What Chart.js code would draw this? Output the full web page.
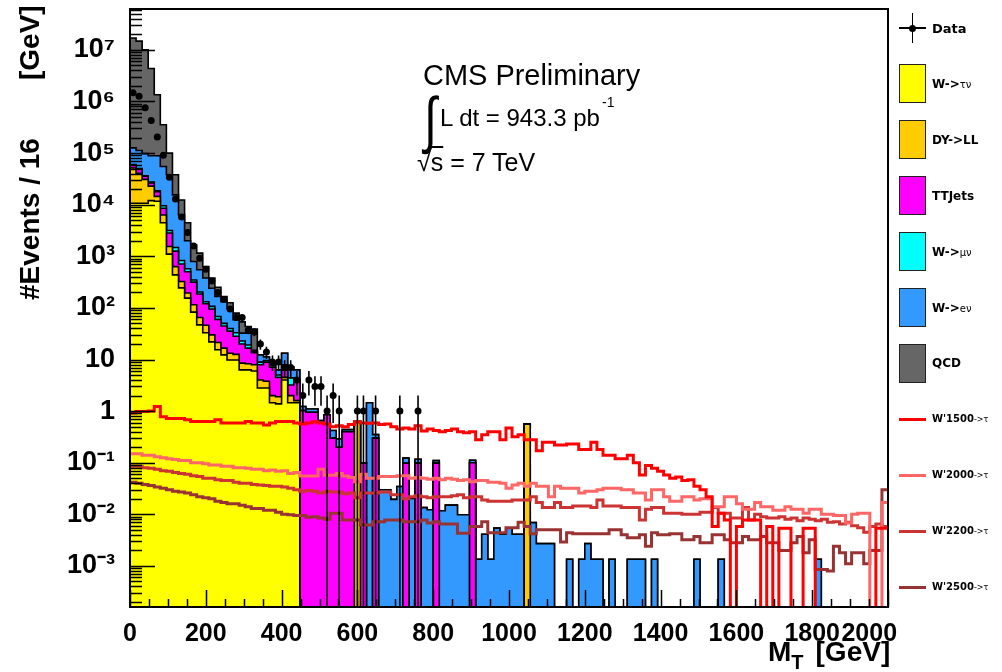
<!DOCTYPE html>
<html>
<head>
<meta charset="utf-8">
<script src="https://cdn.jsdelivr.net/npm/chart.js@4.4.0/dist/chart.umd.min.js"></script>
<style>
body { margin: 0; background: #fff; }
#wrap { position: relative; width: 1002px; height: 672px; overflow: hidden; font-family: "Liberation Sans", Arial, sans-serif; }
#myChart { position: absolute; left: 0; top: 0; }
.txt { position: absolute; white-space: nowrap; line-height: 1; color: #000; }
.ytitle { font-weight: bold; font-size: 28px; transform: rotate(-90deg); transform-origin: 0 0; }
.leg { position: absolute; }
.legtxt { position: absolute; left: 932px; font-family: "DejaVu Sans", sans-serif; font-weight: bold; font-size: 12px; white-space: nowrap; transform: translateY(-50%); line-height: 1; }
.legtxt small { font-weight: normal; font-size: 10px; }
</style>
</head>
<body>
<div id="wrap">
  <canvas id="myChart" width="1002" height="672"></canvas>

  <div class="txt ytitle" style="left:16px; top:300px;">#Events / 16</div>
  <div class="txt ytitle" style="left:16px; top:80px;">[GeV]</div>

  <div class="txt" style="left:768px; top:638px; font-size:28px; font-weight:bold;">M<span style="font-size:20px; position:relative; top:8px;">T</span><span style="margin-left:12px;">[GeV]</span></div>

  <div class="txt" style="left:423px; top:60px; font-size:30px; transform: scaleX(0.965); transform-origin: 0 0;">CMS Preliminary</div>
  <div class="txt" style="left:424px; top:88px; font-size:46px; transform: scaleY(1.35); transform-origin: 0 0;">&#8747;</div>
  <div class="txt" style="left:440px; top:106px; font-size:24px;">L dt = 943.3 pb</div>
  <div class="txt" style="left:602px; top:95px; font-size:14px;">-1</div>
  <div class="txt" style="left:417px; top:150px; font-size:25px;">&#8730;<span style="text-decoration: overline;">s</span> = 7 TeV</div>

  <div id="legend"></div>
</div>

<script>
// 125 bins of 16 GeV, 0 - 2000 GeV
var binWidth = 16;
var nBins = 125;
var binEdges = Array.from({length: nBins + 1}, function (_, i) { return i * binWidth; });

var xTickValues = [0, 200, 400, 600, 800, 1000, 1200, 1400, 1600, 1800, 2000];
var xTickLabels = ['0', '200', '400', '600', '800', '1000', '1200', '1400', '1600', '1800', '2000'];
var yTickValues = [1e-3, 1e-2, 1e-1, 1, 10, 1e2, 1e3, 1e4, 1e5, 1e6, 1e7];
var yTickLabels = ['10⁻³', '10⁻²', '10⁻¹', '1', '10', '10²', '10³', '10⁴', '10⁵', '10⁶', '10⁷'];
var yMin = 1.6e-4;
var yMax = 6.2e7;
// empty bins are drawn at this level (below the axis) so outlines drop to the frame
var yFloor = 1e-6;

// stacked backgrounds, per bin
var wTauNu = [
    10700, 10700, 10700, 12000, 11700, 4470, 1100, 437, 245, 155,
    83, 47, 33, 22, 15.5, 12.3, 9.8, 9.8, 6.3, 6.3,
    6.0, 2.8, 2.8, 1.45, 1.38, 4.0, 1.45, 1.45, 0, 0,
    0, 0, 0, 0, 0, 0, 0, 0, 0, 0,
    0, 0, 0, 0, 0, 0, 0, 0, 0, 0,
    0, 0, 0, 0, 0, 0, 0, 0, 0, 0,
    0, 0, 0, 0, 0, 0, 0, 0, 0, 0,
    0, 0, 0, 0, 0, 0, 0, 0, 0, 0,
    0, 0, 0, 0, 0, 0, 0, 0, 0, 0,
    0, 0, 0, 0, 0, 0, 0, 0, 0, 0,
    0, 0, 0, 0, 0, 0, 0, 0, 0, 0,
    0, 0, 0, 0, 0, 0, 0, 0, 0, 0,
    0, 0, 0, 0, 0
];
var dyLL = [
    40600, 30000, 20200, 10900, 2800, 1840, 450, 194, 79, 40,
    32, 18, 13, 8, 5.9, 4.3, 3.4, 2.8, 2.2, 2.0,
    1.9, 1.2, 1.0, 0.55, 0.52, 0.5, 0.55, 0.15, 0, 0,
    0, 0, 0, 0, 0, 0, 0, 0.6, 0, 0,
    0, 0, 0, 0, 0, 0, 0, 0, 0, 0,
    0, 0, 0, 0, 0, 0, 0, 0, 0, 0,
    0, 0, 0, 0, 0, 0.56, 0, 0, 0, 0,
    0, 0, 0, 0, 0, 0, 0, 0, 0, 0,
    0, 0, 0, 0, 0, 0, 0, 0, 0, 0,
    0, 0, 0, 0, 0, 0, 0, 0, 0, 0,
    0, 0, 0, 0, 0, 0, 0, 0, 0, 0,
    0, 0, 0, 0, 0, 0, 0, 0, 0, 0,
    0, 0, 0, 0, 0
];
var ttJets = [
    7600, 8300, 4600, 3400, 3300, 2200, 1270, 630, 384, 306,
    201, 121, 74, 65, 38.6, 28.1, 22.3, 15.6, 11.5, 8.3,
    5.6, 3.9, 5.1, 5.1, 2.6, 1.8, 1.2, 2.4, 1.02, 0.95,
    0.95, 0.60, 0.85, 0.30, 0.20, 0.40, 0.40, 0.03, 0.098, 0,
    0.30, 0, 0, 0, 0, 0.098, 0, 0.098, 0, 0,
    0.098, 0, 0, 0, 0, 0, 0.10, 0, 0, 0,
    0, 0, 0, 0, 0, 0, 0, 0, 0, 0,
    0, 0, 0, 0, 0, 0, 0, 0, 0, 0,
    0, 0, 0, 0, 0, 0, 0, 0, 0, 0,
    0, 0, 0, 0, 0, 0, 0, 0, 0, 0,
    0, 0, 0, 0, 0, 0, 0, 0, 0, 0,
    0, 0, 0, 0, 0, 0, 0, 0, 0, 0,
    0, 0, 0, 0, 0
];
var wMuNu = [
    1400, 1100, 800, 1200, 800, 1040, 340, 220, 124, 74,
    31, 18, 12, 12, 8, 5.4, 4.3, 4.9, 2.9, 2.5,
    1.0, 1.0, 0.6, 0.5, 0.5, 1.6, 1.2, 0.2, 0, 0,
    0, 0, 0, 0, 0, 0, 0, 0, 0, 0,
    0, 0, 0, 0, 0, 0, 0, 0, 0, 0,
    0, 0, 0, 0, 0, 0, 0, 0, 0, 0,
    0, 0, 0, 0, 0, 0, 0, 0, 0, 0,
    0, 0, 0, 0, 0, 0, 0, 0, 0, 0,
    0, 0, 0, 0, 0, 0, 0, 0, 0, 0,
    0, 0, 0, 0, 0, 0, 0, 0, 0, 0,
    0, 0, 0, 0, 0, 0, 0, 0, 0, 0,
    0, 0, 0, 0, 0, 0, 0, 0, 0, 0,
    0, 0, 0, 0, 0
];
var wENu = [
    65700, 61900, 61400, 61600, 70500, 45500, 34800, 14000, 5480, 1425,
    447, 346, 248, 133, 98, 82, 57.9, 25.8, 9.5, 13.3,
    0.6, 3.4, 1.7, 1.5, 1.3, 5.3, 2.8, 2.1, 0.21, 0.15,
    0.15, 0.06, 0, 0.12, 0.09, 0.04, 0.04, 0, 0, 1.45,
    0.05, 0.030, 0.030, 0.0195, 0.0347, 0.025, 0.0204, 0.019, 0.0135, 0.0123,
    0.012, 0.0117, 0.0151, 0.0151, 0.0098, 0.0098, 0.012, 0.00135, 0.0041, 0.00135,
    0.0054, 0.0041, 0.0054, 0.0041, 0.0041, 0, 0.0069, 0.0027, 0.0027, 0.0027,
    0, 0, 0.00135, 0, 0.00135, 0.0027, 0.00135, 0.00135, 0, 0.00135,
    0, 0, 0.00135, 0.00135, 0.00135, 0, 0.00135, 0, 0, 0,
    0, 0, 0, 0.00135, 0, 0, 0, 0.00135, 0, 0,
    0, 0, 0, 0, 0, 0, 0, 0, 0, 0,
    0, 0, 0, 0.00135, 0, 0, 0, 0, 0, 0,
    0, 0, 0, 0, 0
];
var qcd = [
    1.69e7, 1.47e7, 9.9e6, 4.28e6, 1.26e6, 300000, 62000, 22500, 5990, 2470,
    866, 600, 251, 140, 85, 34, 28, 20.5, 21.3, 11.3,
    23.8, 0, 0, 0, 0, 0, 0, 0, 0, 0,
    0, 0, 0, 0, 0, 0, 0, 0, 0, 0,
    0, 0, 0, 0, 0, 0, 0, 0, 0, 0,
    0, 0, 0, 0, 0, 0, 0, 0, 0, 0,
    0, 0, 0, 0, 0, 0, 0, 0, 0, 0,
    0, 0, 0, 0, 0, 0, 0, 0, 0, 0,
    0, 0, 0, 0, 0, 0, 0, 0, 0, 0,
    0, 0, 0, 0, 0, 0, 0, 0, 0, 0,
    0, 0, 0, 0, 0, 0, 0, 0, 0, 0,
    0, 0, 0, 0, 0, 0, 0, 0, 0, 0,
    0, 0, 0, 0, 0
];

// W' signal samples
var wp1500 = [
    0.92, 0.98, 0.98, 1.0, 1.23, 0.78, 0.72, 0.72, 0.72, 0.68,
    0.63, 0.63, 0.63, 0.63, 0.68, 0.59, 0.59, 0.59, 0.59, 0.63,
    0.59, 0.59, 0.54, 0.59, 0.63, 0.63, 0.63, 0.59, 0.56, 0.59,
    0.62, 0.59, 0.56, 0.50, 0.52, 0.50, 0.55, 0.62, 0.59, 0.58,
    0.59, 0.55, 0.56, 0.50, 0.45, 0.47, 0.45, 0.52, 0.41, 0.45,
    0.42, 0.40, 0.42, 0.45, 0.40, 0.38, 0.40, 0.28, 0.35, 0.40,
    0.40, 0.28, 0.47, 0.32, 0.35, 0.28, 0.28, 0.17, 0.25, 0.25,
    0.22, 0.22, 0.23, 0.23, 0.18, 0.18, 0.25, 0.18, 0.14, 0.14,
    0.12, 0.12, 0.14, 0.10, 0.058, 0.088, 0.078, 0.068, 0.058, 0.050,
    0.053, 0.045, 0.047, 0.035, 0.030, 0.022, 0.0058, 0.0105, 0.0078, 0,
    0.0058, 0.0078, 0.0078, 0.0078, 0, 0.0058, 0, 0.0054, 0.0054, 0,
    0, 0.0054, 0.0054, 0, 0, 0, 0, 0, 0, 0,
    0, 0, 0, 0.0054, 0.0054
];
var wp2000 = [
    0.15, 0.15, 0.14, 0.14, 0.13, 0.125, 0.12, 0.115, 0.11, 0.11,
    0.10, 0.10, 0.095, 0.09, 0.09, 0.085, 0.085, 0.08, 0.08, 0.078,
    0.075, 0.075, 0.07, 0.072, 0.068, 0.07, 0.062, 0.065, 0.055, 0.055,
    0.055, 0.075, 0.057, 0.057, 0.062, 0.055, 0.052, 0.043, 0.06, 0.05,
    0.05, 0.054, 0.054, 0.054, 0.056, 0.056, 0.05, 0.052, 0.05, 0.048,
    0.05, 0.047, 0.05, 0.048, 0.045, 0.047, 0.043, 0.045, 0.045, 0.042,
    0.042, 0.04, 0.032, 0.037, 0.04, 0.035, 0.04, 0.035, 0.035, 0.022,
    0.035, 0.032, 0.032, 0.032, 0.026, 0.028, 0.028, 0.03, 0.032, 0.032,
    0.032, 0.03, 0.03, 0.026, 0.026, 0.019, 0.03, 0.03, 0.022, 0.018,
    0.018, 0.022, 0.022, 0.019, 0.02, 0.02, 0.014, 0.014, 0.022, 0.022,
    0.016, 0.0125, 0.0125, 0.017, 0.014, 0.014, 0.012, 0.012, 0.014, 0.0125,
    0.0125, 0.0105, 0.0125, 0.0125, 0.01, 0.01, 0.0095, 0.0095, 0.0068, 0.01,
    0.0105, 0.0105, 0, 0, 0.017
];
var wp2200 = [
    0.085, 0.085, 0.08, 0.078, 0.075, 0.07, 0.068, 0.065, 0.062, 0.06,
    0.056, 0.054, 0.05, 0.05, 0.047, 0.045, 0.045, 0.042, 0.04, 0.04,
    0.038, 0.037, 0.036, 0.035, 0.035, 0.034, 0.032, 0.03, 0.028, 0.029,
    0.028, 0.026, 0.028, 0.027, 0.027, 0.025, 0.026, 0.021, 0.026, 0.026,
    0.026, 0.027, 0.027, 0.024, 0.024, 0.02, 0.022, 0.023, 0.022, 0.021,
    0.022, 0.022, 0.022, 0.023, 0.024, 0.021, 0.022, 0.022, 0.019, 0.018,
    0.018, 0.018, 0.018, 0.019, 0.019, 0.019, 0.022, 0.017, 0.0135, 0.0135,
    0.017, 0.0135, 0.0135, 0.0145, 0.0145, 0.0145, 0.0135, 0.019, 0.0145, 0.0145,
    0.0145, 0.0135, 0.0135, 0.0135, 0.0078, 0.0125, 0.0135, 0.0135, 0.0105, 0.0105,
    0.0105, 0.01, 0.01, 0.01, 0.011, 0.011, 0.0135, 0.0105, 0.0105, 0.0085,
    0.0085, 0.0135, 0.0078, 0.01, 0.009, 0.0085, 0.0085, 0.009, 0.008, 0.0085,
    0.0075, 0.0085, 0.008, 0.0075, 0.008, 0.007, 0.0072, 0.0065, 0.007, 0.006,
    0.0055, 0.0045, 0.0058, 0.0065, 0.0058
];
var wp2500 = [
    0.042, 0.04, 0.038, 0.036, 0.034, 0.032, 0.03, 0.028, 0.027, 0.026,
    0.024, 0.022, 0.021, 0.02, 0.018, 0.017, 0.016, 0.016, 0.015, 0.014,
    0.013, 0.013, 0.012, 0.012, 0.011, 0.010, 0.0098, 0.0095, 0.0095, 0.0088,
    0.009, 0.0085, 0.008, 0.0105, 0.0105, 0.0078, 0.0078, 0.0078, 0.0062, 0.0062,
    0.0072, 0.0072, 0.0078, 0.0078, 0.0078, 0.0072, 0.0072, 0.0072, 0.0078, 0.0068,
    0.0072, 0.0065, 0.0065, 0.0065, 0.0043, 0.0043, 0.0058, 0.0058, 0.0072, 0.0044,
    0.0044, 0.0044, 0.0055, 0.0055, 0.007, 0.0058, 0.0042, 0.005, 0.005, 0.005,
    0.005, 0.0029, 0.0044, 0.0042, 0.0042, 0.0042, 0.0042, 0.0042, 0.0042, 0.005,
    0.005, 0.004, 0.0035, 0.0035, 0.004, 0.0024, 0.0044, 0.004, 0.004, 0.0042,
    0.0042, 0.0032, 0.0032, 0.0037, 0.0028, 0.0028, 0.004, 0.004, 0.0032, 0.0028,
    0.0028, 0.0037, 0.0032, 0.0032, 0.0037, 0.0028, 0.0028, 0.002, 0.002, 0.0028,
    0.0037, 0.0018, 0.0032, 0.00085, 0.00085, 0.0008, 0.0024, 0.0018, 0.0011, 0.0018,
    0.0018, 0.0011, 0.002, 0.002, 0.03
];

// observed events per bin
var dataCounts = [
    1480000, 1260000, 760000, 427000, 204000, 91000, 34000, 12900, 5750, 2880,
    1585, 912, 562, 331, 200, 145, 95, 65, 65, 37,
    34, 20, 14, 9, 9, 7, 7, 4, 2, 4,
    3, 3, 1, 2, 1, 0, 0, 1, 1, 0,
    1, 0, 0, 0, 1, 0, 0, 1, 0, 0,
    0, 0, 0, 0, 0, 0, 0, 0, 0, 0,
    0, 0, 0, 0, 0, 0, 0, 0, 0, 0,
    0, 0, 0, 0, 0, 0, 0, 0, 0, 0,
    0, 0, 0, 0, 0, 0, 0, 0, 0, 0,
    0, 0, 0, 0, 0, 0, 0, 0, 0, 0,
    0, 0, 0, 0, 0, 0, 0, 0, 0, 0,
    0, 0, 0, 0, 0, 0, 0, 0, 0, 0,
    0, 0, 0, 0, 0
];

var procSeries = [wTauNu, dyLL, ttJets, wMuNu, wENu, qcd];
var procMain = ['W->', 'DY->LL', 'TTJets', 'W->', 'W->', 'QCD'];
var procSub = ['τν', '', '', 'μν', 'eν', ''];
var procColors = ['#ffff00', '#ffcc00', '#ff00ff', '#00ffff', '#3399ff', '#666666'];

var sigSeries = [wp1500, wp2000, wp2200, wp2500];
var sigMain = ["W'1500", "W'2000", "W'2200", "W'2500"];
var sigColors = ['#ff0000', '#ff6666', '#cc3333', '#993333'];

// histogram outline: each bin contributes its low and high edge at the same height
function stepData(vals) {
    var pts = [];
    vals.forEach(function (v, i) {
        var y = v > 0 ? v : yFloor;
        pts.push({x: binEdges[i], y: y}, {x: binEdges[i + 1], y: y});
    });
    return pts;
}

// cumulative stack (bottom -> top)
var running = new Array(nBins).fill(0);
var cumLayers = procSeries.map(function (arr) {
    running = running.map(function (r, i) { return r + arr[i]; });
    return running.slice();
});

var dataPts = [];
var errPts = [];
dataCounts.forEach(function (n, i) {
    if (n <= 0) return;
    var c = binEdges[i] + binWidth / 2;
    var e = Math.sqrt(n);
    dataPts.push({x: c, y: n});
    errPts.push({x: c, y: Math.max(n - e, yFloor)}, {x: c, y: n + e}, {x: c, y: null});
});

var datasets = [];
datasets.push({
    label: 'Data', data: dataPts, showLine: false,
    pointRadius: 3.5, pointBackgroundColor: '#000', pointBorderColor: '#000', pointBorderWidth: 0
});
datasets.push({
    label: 'Data errors', data: errPts, borderColor: '#000', borderWidth: 1.6,
    pointRadius: 0, spanGaps: false, fill: false
});
sigSeries.forEach(function (s, k) {
    datasets.push({
        label: sigMain[k], data: stepData(s), fill: false,
        borderColor: sigColors[k], borderWidth: 3, pointRadius: 0
    });
});
// index order = drawn on top, so the bottom layer of the stack comes first
for (var k = 0; k < cumLayers.length; k++) {
    datasets.push({
        label: procMain[k] + procSub[k], data: stepData(cumLayers[k]), fill: 'start',
        backgroundColor: procColors[k], borderColor: '#000', borderWidth: 1.6, pointRadius: 0
    });
}

const frameTicks = {
    id: 'frameTicks',
    afterDatasetsDraw: function (chart) {
        var c = chart.ctx, a = chart.chartArea, xs = chart.scales.x, ys = chart.scales.y;
        c.save();
        c.strokeStyle = '#000';
        c.lineWidth = 1.5;
        c.beginPath();
        for (var d = -4; d <= 7; d++) {
            for (var m = 1; m <= 9; m++) {
                var v = m * Math.pow(10, d);
                if (v < yMin || v > yMax) continue;
                var py = Math.round(ys.getPixelForValue(v)) + 0.5;
                c.moveTo(a.left, py);
                c.lineTo(a.left + (m === 1 ? 25 : 12), py);
            }
        }
        for (var g = 0; g <= 2000; g += 50) {
            var px = Math.round(xs.getPixelForValue(g)) + 0.5;
            c.moveTo(px, a.bottom);
            c.lineTo(px, a.bottom - (g % 200 === 0 ? 17 : 8));
        }
        c.stroke();
        c.lineWidth = 2;
        c.strokeRect(a.left, a.top, a.right - a.left, a.bottom - a.top);
        c.restore();
    }
};

Chart.defaults.font.family = "'Liberation Sans', Arial, sans-serif";

const ctx = document.getElementById('myChart');
new Chart(ctx, {
    type: 'line',
    data: {datasets: datasets},
    options: {
        responsive: false,
        animation: false,
        devicePixelRatio: 1,
        layout: {padding: {top: 9, right: 114, left: 0, bottom: 0}},
        plugins: {legend: {display: false}, tooltip: {enabled: false}},
        elements: {line: {tension: 0}},
        scales: {
            x: {
                type: 'linear', min: 0, max: 2000,
                grid: {display: false}, border: {display: false},
                afterBuildTicks: function (s) { s.ticks = xTickValues.map(function (v) { return {value: v}; }); },
                afterFit: function (s) { s.height = 65; s.paddingLeft = 0; s.paddingRight = 0; },
                ticks: {
                    autoSkip: false, maxRotation: 0, padding: 4, color: '#000',
                    font: {size: 25, weight: 'bold'},
                    // last label sits a little left of its tick, as in the original
                    callback: function (v, i) {
                        return i === xTickLabels.length - 1 ? xTickLabels[i] + '\u2002\u2002\u2002' : xTickLabels[i];
                    }
                }
            },
            y: {
                type: 'logarithmic', min: yMin, max: yMax,
                grid: {display: false}, border: {display: false},
                afterBuildTicks: function (s) { s.ticks = yTickValues.map(function (v) { return {value: v}; }); },
                afterFit: function (s) { s.width = 130; s.paddingTop = 0; s.paddingBottom = 0; },
                ticks: {
                    autoSkip: false, padding: 7, color: '#000',
                    font: {size: 27, weight: 'bold'},
                    callback: function (v, i) { return yTickLabels[i]; }
                }
            }
        }
    },
    plugins: [frameTicks]
});

// legend column on the right
var legend = document.getElementById('legend');
var step = 55.9;
function addEl(css, html, cls) {
    var el = document.createElement('div');
    el.className = cls || 'leg';
    el.style.cssText = css;
    if (html) el.innerHTML = html;
    legend.appendChild(el);
}
addEl('left:899px; top:27px; width:27px; height:1.6px; background:#000;');
addEl('left:911.5px; top:13px; width:1.6px; height:30px; background:#000;');
addEl('left:908.5px; top:24.5px; width:7px; height:7px; border-radius:50%; background:#000;');
addEl('top:28px; font-size:13px;', 'Data', 'legtxt');
procMain.forEach(function (name, k) {
    var yc = 28 + step * (k + 1);
    addEl('left:899px; top:' + (yc - 19.5) + 'px; width:25px; height:37px; border:1px solid #222; background:' + procColors[k] + ';');
    addEl('top:' + yc + 'px;', name + (procSub[k] ? '<small>' + procSub[k] + '</small>' : ''), 'legtxt');
});
sigMain.forEach(function (name, k) {
    var yc = 28 + step * (k + 7);
    addEl('left:899px; top:' + (yc - 1.5) + 'px; width:27px; height:3px; background:' + sigColors[k] + ';');
    addEl('top:' + yc + 'px; font-size:10px;', name + '<small style="font-size:8px;">->τ</small>', 'legtxt');
});
</script>
</body>
</html>
